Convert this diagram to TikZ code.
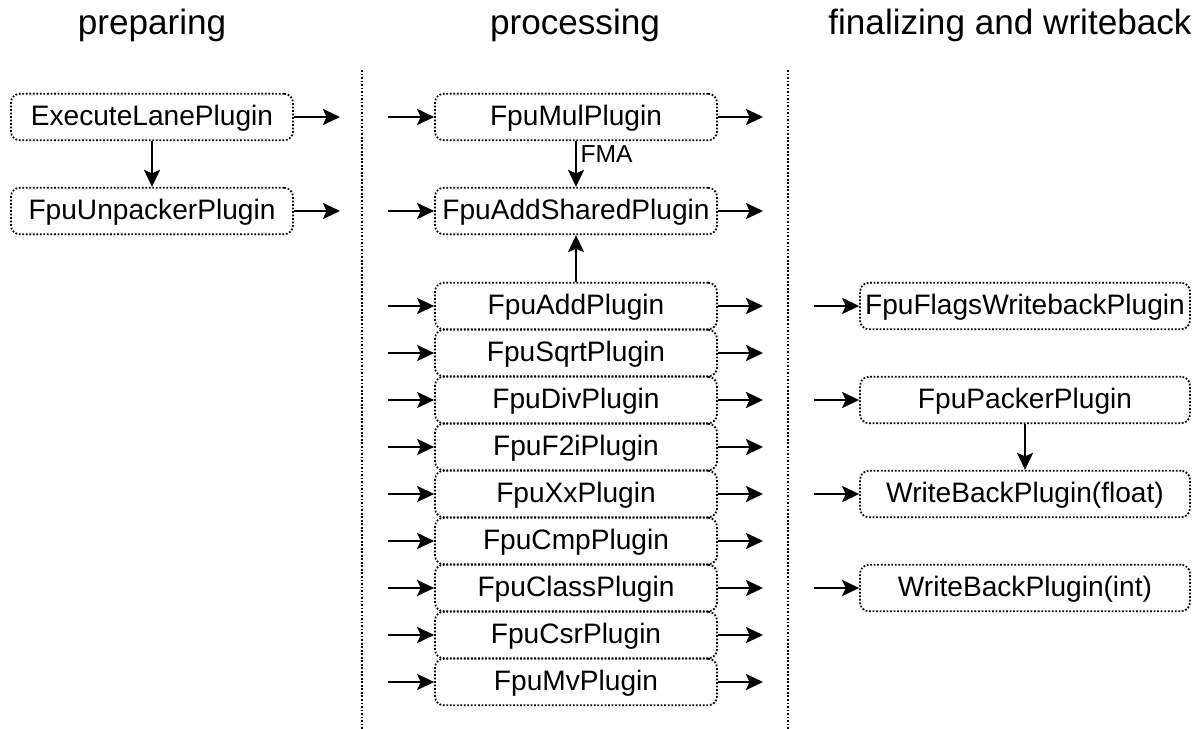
\documentclass[tikz,border=0pt]{standalone}
\usepackage{fontspec}
\setmainfont{Liberation Sans}
\usetikzlibrary{arrows.meta}

\begin{document}
\begin{tikzpicture}[x=0.02cm, y=-0.02cm,
  % 插件方框的style
  plugin box/.style={draw, densely dotted, line width=1pt, rounded corners=5pt,
    minimum width=5.64cm, minimum height=0.93cm, inner sep=0pt,
    text height=12.8pt, text depth=3.5pt,
    font=\fontsize{16}{19}\selectfont},
  wide box/.style={plugin box, minimum width=6.6cm},
  % 阶段标题
  stage title/.style={font=\fontsize{20}{24}\selectfont},
  % 箭头
  flow/.style={-{Stealth[length=0.34cm, width=0.32cm, inset=0.07cm]}, line width=1.35pt},
  divider/.style={densely dotted, line width=1pt}]

  % 画布大小
  \useasboundingbox (0,0) rectangle (1200,729);

  % 三个阶段的标题
  \node[stage title] (prep) at (152,25) {preparing};
  \node[stage title] (proc) at (575,25) {processing};
  \node[stage title] (fin) at (1010,25) {finalizing and writeback};

  % 分隔线
  \draw[divider] (362,70) -- (362,729);
  \draw[divider] (788,70) -- (788,729);

  % preparing
  \node[plugin box] (lane) at (152,117) {ExecuteLanePlugin};
  \node[plugin box] (unpack) at (152,211) {FpuUnpackerPlugin};
  \coordinate (lane-out) at (340,117);
  \coordinate (unpack-out) at (340,211);
  \draw[flow] (lane) -- (unpack);
  \draw[flow] (lane) -- (lane-out);
  \draw[flow] (unpack) -- (unpack-out);

  % processing
  \node[plugin box] (mul) at (576,117) {FpuMulPlugin};
  \node[plugin box] (addshared) at (576,211) {FpuAddSharedPlugin};
  \foreach \name/\txt [count=\k from 0] in {add/FpuAddPlugin, sqrt/FpuSqrtPlugin,
      div/FpuDivPlugin, ftoi/FpuF2iPlugin, xx/FpuXxPlugin, cmp/FpuCmpPlugin,
      class/FpuClassPlugin, csr/FpuCsrPlugin, mv/FpuMvPlugin}
    \node[plugin box] (\name) at (576,306+47*\k) {\txt};

  % processing 的输入和输出箭头
  \foreach \name in {mul, addshared, add, sqrt, div, ftoi, xx, cmp, class, csr, mv} {
    \coordinate (\name-in) at (388,0 |- \name);
    \coordinate (\name-out) at (763,0 |- \name);
    \draw[flow] (\name-in) -- (\name);
    \draw[flow] (\name) -- (\name-out);
  }
  \draw[flow] (mul) -- node[pos=0.28, anchor=west, inner sep=2pt,
    font=\fontsize{14}{16}\selectfont] {FMA} (addshared);
  \draw[flow] (add) -- (addshared);

  % finalizing and writeback
  \node[wide box] (flags) at (1025,306) {FpuFlagsWritebackPlugin};
  \node[wide box] (packer) at (1025,400) {FpuPackerPlugin};
  \node[wide box] (wbfloat) at (1025,494) {WriteBackPlugin(float)};
  \node[wide box] (wbint) at (1025,588) {WriteBackPlugin(int)};
  \foreach \name in {flags, packer, wbfloat, wbint} {
    \coordinate (\name-in) at (814,0 |- \name);
    \draw[flow] (\name-in) -- (\name);
  }
  \draw[flow] (packer) -- (wbfloat);

\end{tikzpicture}
\end{document}
